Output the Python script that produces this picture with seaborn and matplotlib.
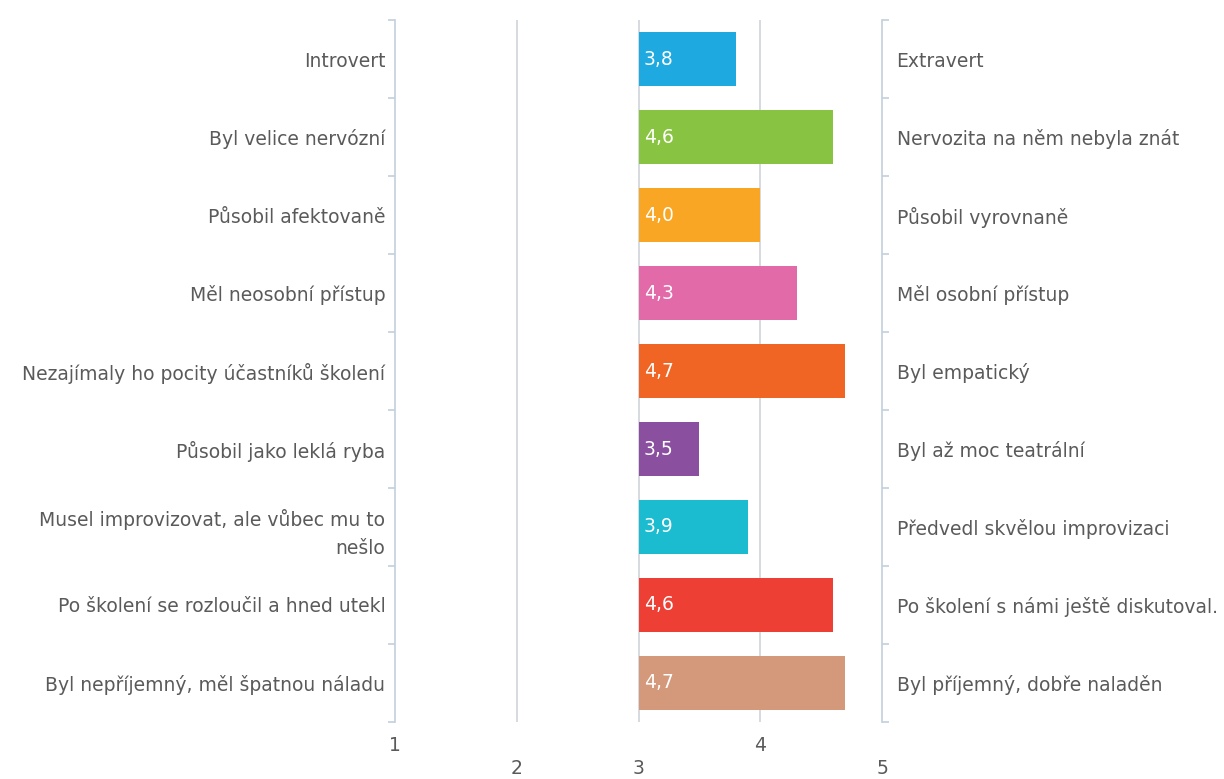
import numpy as np
import pandas as pd
import seaborn as sns
import matplotlib.pyplot as plt

left_labels = ["Introvert", "Byl velice nervózní", "Působil afektovaně", "Měl neosobní přístup",
               "Nezajímaly ho pocity účastníků školení", "Působil jako leklá ryba",
               "Musel improvizovat, ale vůbec mu to\nnešlo", "Po školení se rozloučil a hned utekl",
               "Byl nepříjemný, měl špatnou náladu"]
right_labels = ["Extravert", "Nervozita na něm nebyla znát", "Působil vyrovnaně", "Měl osobní přístup",
                "Byl empatický", "Byl až moc teatrální", "Předvedl skvělou improvizaci",
                "Po školení s námi ještě diskutoval.", "Byl příjemný, dobře naladěn"]
values = [3.8, 4.6, 4.0, 4.3, 4.7, 3.5, 3.9, 4.6, 4.7]
colors = ["#1fa9e1", "#88c441", "#f8a623", "#e36aa9", "#f06524", "#8a4f9e", "#1bbcd0", "#ee3f35", "#d4987b"]
xticks = [1, 2, 3, 4, 5]

df = pd.DataFrame({"label": left_labels, "value": values})

sns.set_style("white")
plt.rcParams['font.family'] = ['DejaVu Sans']
FS = 13.5
TXT = "#5a5a5a"
LINE = "#c3d0dc"

fig = plt.figure(figsize=(12.24, 7.79), dpi=100)
ax = fig.add_axes([395 / 1224, 1 - 722 / 779, (882 - 395) / 1224, (722 - 20) / 779])

sns.barplot(data=df, x="value", y="label", hue="label", palette=colors, legend=False,
            width=0.7, saturation=1, ax=ax, zorder=2)

# bars start at 3 (middle of the scale)
for p, v in zip(ax.patches, values):
    p.set_x(3)
    p.set_width(v - 3)
    p.set_linewidth(0)
    ax.text(3.045, p.get_y() + p.get_height() / 2, f"{v:.1f}".replace(".", ","),
            color="white", fontsize=FS, va="center", ha="left", zorder=3)

ax.set_xlim(1, 5)
ax.set_ylim(len(values) - 0.5, -0.5)
ax.set_xlabel("")
ax.set_ylabel("")

for x in xticks[1:-1]:
    ax.axvline(x, color="#cbd0d5", lw=1.1, zorder=0)

for s in ["top", "bottom"]:
    ax.spines[s].set_visible(False)
for s in ["left", "right"]:
    ax.spines[s].set_color(LINE)
    ax.spines[s].set_linewidth(1.2)

# y labels
ax.set_yticks(range(len(values)))
ax.set_yticklabels(left_labels)
for lab in ax.get_yticklabels():
    lab.set_linespacing(1.6)
ax.set_yticks(np.arange(-0.5, len(values), 1), minor=True)
ax.tick_params(axis="y", which="major", length=0, pad=7, labelsize=FS, labelcolor=TXT)
ax.tick_params(axis="y", which="minor", length=5, width=1.2, color=LINE, left=True)

ax2 = ax.twinx()
ax2.set_ylim(ax.get_ylim())
ax2.set_yticks(range(len(values)))
ax2.set_yticklabels(right_labels)
ax2.set_yticks(np.arange(-0.5, len(values), 1), minor=True)
ax2.tick_params(axis="y", which="major", length=0, pad=10.5, labelsize=FS, labelcolor=TXT)
ax2.tick_params(axis="y", which="minor", length=5, width=1.2, color=LINE, right=True)
for s in ["top", "bottom", "left", "right"]:
    ax2.spines[s].set_visible(False)

# x labels, staggered
ax.set_xticks(xticks)
ax.set_xticklabels([str(t) for t in xticks])
ax.tick_params(axis="x", length=0, labelsize=FS, labelcolor=TXT)
for i, t in enumerate(ax.xaxis.get_major_ticks()):
    t.set_pad(10 if xticks[i] in (1, 4) else 27)

fig.savefig("out.png", dpi=100)
